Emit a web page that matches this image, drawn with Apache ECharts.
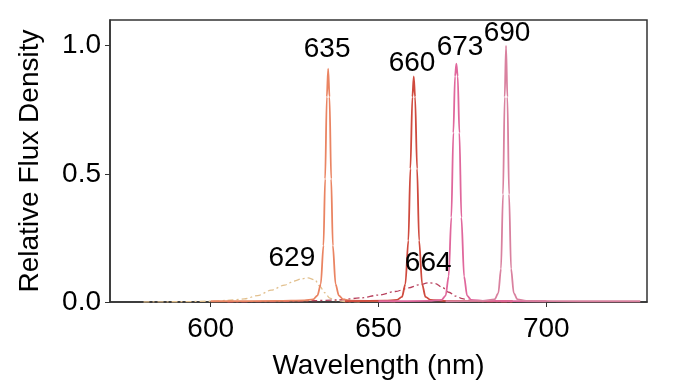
<!DOCTYPE html>
<html><head><meta charset="utf-8">
<script src="https://cdn.jsdelivr.net/npm/echarts@6/dist/echarts.min.js"></script>
<style>html,body{margin:0;padding:0;background:#fff}#c{width:685px;height:392px}</style>
</head><body><div id="c"></div>
<script>
// Narrow LED peaks (wavelength nm, relative flux)
const peak635 = [[600,0.003],[620,0.004],[628,0.006],[630.5,0.01],[631.8,0.025],[632.8,0.07],[633.6,0.22],[634.1,0.48],[634.6,0.8],[635,0.91],[635.4,0.8],[635.9,0.48],[636.4,0.22],[637.2,0.07],[638.2,0.025],[639.5,0.01],[642,0.005],[655,0.003]];
const peak660 = [[640,0.003],[652,0.005],[655.5,0.008],[657,0.02],[658,0.07],[658.9,0.24],[659.5,0.52],[660.1,0.8],[660.5,0.88],[660.9,0.8],[661.5,0.52],[662.1,0.24],[663,0.07],[664,0.02],[665.5,0.008],[670,0.004],[690,0.003]];
const peak673 = [[650,0.003],[665,0.004],[668.8,0.008],[670,0.025],[670.9,0.1],[671.7,0.33],[672.3,0.66],[672.8,0.88],[673.2,0.93],[673.6,0.88],[674.1,0.66],[674.7,0.33],[675.5,0.1],[676.4,0.025],[677.6,0.008],[682,0.004],[700,0.003]];
const peak690 = [[670,0.003],[681,0.004],[684.6,0.01],[685.7,0.035],[686.5,0.13],[687.1,0.42],[687.6,0.8],[688,1.0],[688.4,0.8],[688.9,0.42],[689.5,0.13],[690.3,0.035],[691.4,0.01],[694,0.004],[710,0.003],[728,0.003]];
// Broad reference spectra (dash-dot)
const broad629 = [[580,0.0],[590,0.001],[600,0.003],[605,0.006],[610,0.012],[614,0.025],[618,0.046],[622,0.066],[625,0.082],[627,0.09],[629,0.094],[631,0.087],[632.5,0.062],[634,0.036],[635.5,0.015],[637,0.006],[640,0.002],[645,0.0]];
const broad664 = [[605,0.0],[620,0.002],[630,0.005],[638,0.008],[645,0.016],[650,0.027],[655,0.041],[659,0.055],[662,0.067],[665,0.075],[667,0.072],[669,0.057],[671,0.038],[673,0.023],[675,0.013],[677,0.006],[680,0.002],[690,0.0]];
// Peak annotation labels [x, y, text]
const peakLabels = [[634.7,0.985,'635'],[660.0,0.93,'660'],[674.3,0.995,'673'],[688.3,1.05,'690'],[624.2,0.172,'629'],[664.8,0.152,'664']];
const xTicks = [600,650,700];
const yTicks = [0,0.5,1.0];

const chart = echarts.init(document.getElementById('c'), null, {renderer:'canvas'});
const font = 'Liberation Sans, Arial, sans-serif';
function line(data, color, dashed){
  return {type:'line', data:data, showSymbol:false, smooth:0.3, smoothMonotone:'x',
    lineStyle:{color:color, width:dashed?1.3:1.8, type: dashed?[6,3,2,3]:'solid'}, z: dashed?2:3, animation:false};
}
chart.setOption({
  animation:false,
  grid:{left:110, right:38, top:20, bottom:90, show:true, borderColor:'#333', borderWidth:1.5, backgroundColor:'transparent'},
  xAxis:{type:'value', min:570, max:730,
    name:'Wavelength (nm)', nameLocation:'middle', nameGap:50,
    nameTextStyle:{fontFamily:font, fontSize:28, color:'#000'},
    axisLine:{show:true, onZero:false, lineStyle:{color:'#333', width:1.5}},
    axisTick:{show:true, length:5, lineStyle:{color:'#333'}, customValues:xTicks},
    axisLabel:{fontFamily:font, fontSize:28, color:'#000', margin:13, customValues:xTicks},
    splitLine:{show:false}},
  yAxis:{type:'value', min:0, max:1.1,
    name:'Relative Flux Density', nameLocation:'middle', nameGap:66,
    nameTextStyle:{fontFamily:font, fontSize:28, color:'#000'},
    axisLine:{show:true, lineStyle:{color:'#333', width:1.5}},
    axisTick:{show:true, length:5, lineStyle:{color:'#333'}, customValues:yTicks},
    axisLabel:{fontFamily:font, fontSize:28, color:'#000', margin:9, customValues:yTicks, formatter:v=>v.toFixed(1)},
    splitLine:{show:false}},
  series:[
    line(broad629,'#e2c08e',true),
    line(broad664,'#b8425e',true),
    line(peak635,'#ea8462',false),
    line(peak660,'#cf4a3e',false),
    line(peak673,'#e0679c',false),
    line(peak690,'#d9819f',false),
    {type:'scatter', data:peakLabels, symbolSize:0, z:5, animation:false, itemStyle:{opacity:1},
     label:{show:true, position:'inside', formatter:p=>p.data[2], fontFamily:font, fontSize:28, color:'#000'}}
  ]
});
</script></body></html>
